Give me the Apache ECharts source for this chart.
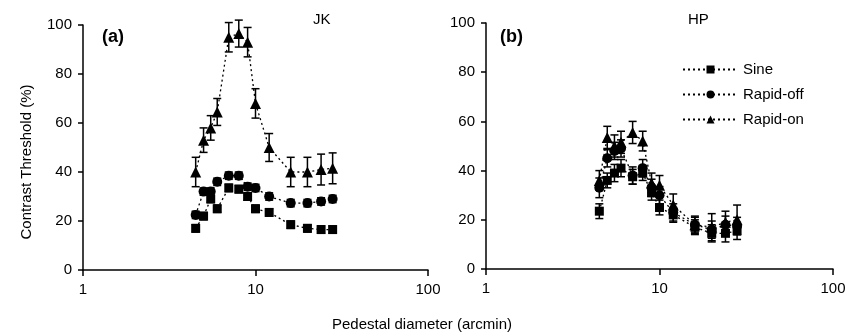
<!DOCTYPE html>
<html>
<head>
<meta charset="utf-8">
<title>Contrast threshold vs pedestal diameter</title>
<script src="https://cdn.jsdelivr.net/npm/echarts@6/dist/echarts.min.js"></script>
<style>
body   { margin: 0; background: #fff; }
#chart { width: 851px; height: 336px; }
</style>
</head>
<body>
<div id="chart"></div>
<script>
// pedestal diameters (arcmin), shared by both observers
var diameters = [4.5, 5, 5.5, 6, 7, 8, 9, 10, 12, 16, 20, 24, 28];

// observer JK, panel (a)
var sineJK    = [17, 22, 29, 25, 33.5, 33, 30, 25, 23.5, 18.5, 17, 16.5, 16.5];
var offJK     = [22.5, 32, 32, 36, 38.5, 38.5, 34, 33.5, 30, 27.3, 27.3, 28, 29];
var onJK      = [40, 53, 58, 64.5, 95, 96.5, 93, 68, 50, 40, 40, 41, 41.5];
var sineJKErr = [1.5, 1.5, 1.5, 1.5, 1.5, 1.5, 1.5, 1.5, 1.5, 1.5, 1.5, 1.5, 1.5];
var offJKErr  = [1.5, 1.5, 1.5, 1.5, 1.5, 1.5, 1.5, 1.5, 1.5, 1.5, 1.5, 1.5, 1.5];
var onJKErr   = [6, 5, 5, 5.5, 6, 5.5, 6, 6, 5.7, 6, 6, 6.3, 6.3];

// observer HP, panel (b)
var sineHP    = [23.5, 36, 39, 41, 37.5, 39, 31, 25, 22, 17, 14.5, 14.5, 15.5];
var offHP     = [33, 45, 48, 49, 38, 41, 33, 30, 23, 18, 16, 18, 17.5];
var onHP      = [36, 53.5, 50, 51.5, 55.5, 52, 35, 34, 26, 18, 17, 19, 20];
var sineHPErr = [3, 3, 3.5, 3.5, 3, 3, 3, 3, 3, 3, 3.5, 3.5, 3.5];
var offHPErr  = [4, 3.5, 3.5, 3.5, 3.5, 3.5, 3.5, 3.5, 3.5, 3, 3.5, 3.5, 3.5];
var onHPErr   = [4, 4.5, 4.5, 4.5, 4.5, 4, 4, 4, 4.5, 3.5, 5.5, 4.5, 6];

var yTicks = [0, 20, 40, 60, 80, 100];

function pairs(ys) {
    return diameters.map(function (x, i) { return [x, ys[i]]; });
}
function errRows(ys, es) {
    return diameters.map(function (x, i) { return [x, ys[i] - es[i], ys[i] + es[i]]; });
}

function drawErr(params, api) {
    var x = api.value(0);
    var hi = api.coord([x, api.value(2)]);
    var lo = api.coord([x, api.value(1)]);
    var w = 4;
    var st = { stroke: '#000', lineWidth: 1.5 };
    return {
        type: 'group',
        children: [
            { type: 'line', shape: { x1: hi[0], y1: hi[1], x2: lo[0], y2: lo[1] }, style: st },
            { type: 'line', shape: { x1: hi[0] - w, y1: hi[1], x2: hi[0] + w, y2: hi[1] }, style: st },
            { type: 'line', shape: { x1: lo[0] - w, y1: lo[1], x2: lo[0] + w, y2: lo[1] }, style: st }
        ]
    };
}

var font = 'Liberation Sans, Arial, sans-serif';
var axisLine = { lineStyle: { color: '#000', width: 1.5 } };

function xAxisFor(idx) {
    return {
        type: 'log', logBase: 10, min: 1, max: 100, gridIndex: idx,
        axisLine: axisLine,
        axisTick: { show: true, length: 6, lineStyle: { color: '#000', width: 1.5 } },
        minorTick: { show: false },
        splitLine: { show: false },
        axisLabel: { color: '#000', fontSize: 15, fontFamily: font, margin: 12 }
    };
}
function yAxisFor(idx) {
    return {
        type: 'value', min: yTicks[0], max: yTicks[yTicks.length - 1], interval: 20, gridIndex: idx,
        axisLine: { show: true, lineStyle: { color: '#000', width: 1.5 } },
        axisTick: { show: true, length: 5, lineStyle: { color: '#000', width: 1.5 } },
        splitLine: { show: false },
        axisLabel: { color: '#000', fontSize: 15, fontFamily: font, margin: 11 }
    };
}

var shapes = { 'Sine': 'rect', 'Rapid-off': 'circle', 'Rapid-on': 'triangle' };
var sizes  = { 'Sine': 9, 'Rapid-off': 10, 'Rapid-on': 11 };

function lineSeries(name, idx, ys) {
    return {
        name: name, type: 'line', xAxisIndex: idx, yAxisIndex: idx,
        data: pairs(ys),
        symbol: shapes[name], symbolSize: sizes[name],
        itemStyle: { color: '#000' },
        lineStyle: { color: '#000', width: 1.3, type: [2, 3] },
        z: 3, animation: false
    };
}
function errSeries(idx, ys, es) {
    return {
        type: 'custom', xAxisIndex: idx, yAxisIndex: idx,
        data: errRows(ys, es),
        encode: { x: 0, y: [1, 2] },
        renderItem: drawErr, z: 2, silent: true, animation: false
    };
}

var chart = echarts.init(document.getElementById('chart'));
chart.setOption({
    backgroundColor: '#fff',
    animation: false,
    grid: [
        { left: 83, top: 25, width: 345, height: 245 },
        { left: 486, top: 23, width: 347, height: 246 }
    ],
    xAxis: [xAxisFor(0), xAxisFor(1)],
    yAxis: [yAxisFor(0), yAxisFor(1)],
    legend: {
        data: ['Sine', 'Rapid-off', 'Rapid-on'],
        orient: 'vertical', left: 682, top: 62, padding: 0,
        itemWidth: 55, itemHeight: 10, itemGap: 10,
        textStyle: { color: '#000', fontSize: 15, fontFamily: font }
    },
    graphic: [
        { type: 'text', x: 102, y: 28, style: { text: '(a)', font: 'bold 18px ' + font, fill: '#000' } },
        { type: 'text', x: 313, y: 12, style: { text: 'JK', font: '15px ' + font, fill: '#000' } },
        { type: 'text', x: 500, y: 28, style: { text: '(b)', font: 'bold 18px ' + font, fill: '#000' } },
        { type: 'text', x: 688, y: 12, style: { text: 'HP', font: '15px ' + font, fill: '#000' } },
        { type: 'text', x: 27, y: 162, rotation: Math.PI / 2,
          style: { text: 'Contrast Threshold (%)', font: '15px ' + font, fill: '#000',
                   align: 'center', verticalAlign: 'middle' } },
        { type: 'text', x: 422, y: 325,
          style: { text: 'Pedestal diameter (arcmin)', font: '15px ' + font, fill: '#000',
                   align: 'center', verticalAlign: 'middle' } }
    ],
    series: [
        errSeries(0, sineJK, sineJKErr),
        errSeries(0, offJK, offJKErr),
        errSeries(0, onJK, onJKErr),
        lineSeries('Sine', 0, sineJK),
        lineSeries('Rapid-off', 0, offJK),
        lineSeries('Rapid-on', 0, onJK),
        errSeries(1, sineHP, sineHPErr),
        errSeries(1, offHP, offHPErr),
        errSeries(1, onHP, onHPErr),
        lineSeries('Sine', 1, sineHP),
        lineSeries('Rapid-off', 1, offHP),
        lineSeries('Rapid-on', 1, onHP)
    ]
});
</script>
</body>
</html>
